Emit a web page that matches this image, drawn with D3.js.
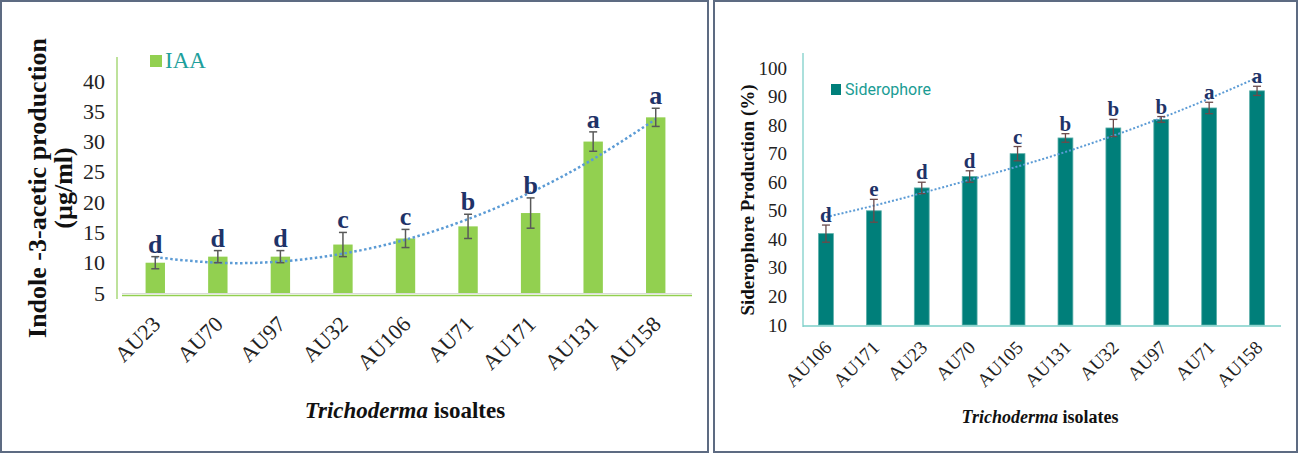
<!DOCTYPE html>
<html>
<head>
<meta charset="utf-8">
<script src="https://cdn.jsdelivr.net/npm/d3@7"></script>
<style>
  body { margin: 0; background: #fff; }
  svg { display: block; }
</style>
</head>
<body>
<svg id="chart"></svg>
<script>
// ---- data: IAA panel ----
const iaaIsolates = ["AU23", "AU70", "AU97", "AU32", "AU106", "AU71", "AU171", "AU131", "AU158"];
const iaaValues   = [10, 11, 11, 13, 14, 16, 18.2, 30, 34];
const iaaErrors   = [1, 1, 1, 2, 1.5, 2, 2.5, 1.6, 1.5];
const iaaLetters  = ["d", "d", "d", "c", "c", "b", "b", "a", "a"];
const iaaTrend    = [10.9, 10.0, 10.2, 11.5, 13.8, 17.2, 21.6, 27.1, 33.7];
const iaaTicks    = [5, 10, 15, 20, 25, 30, 35, 40];

// ---- data: siderophore panel ----
const sidIsolates = ["AU106", "AU171", "AU23", "AU70", "AU105", "AU131", "AU32", "AU97", "AU71", "AU158"];
const sidValues   = [42, 50, 58, 62, 70, 75.5, 79, 82, 86, 92];
const sidErrors   = [3, 4, 2, 2, 2.5, 1.5, 3, 1, 2, 1.6];
const sidLetters  = ["d", "e", "d", "d", "c", "b", "b", "b", "a", "a"];
const sidTrend    = [47.8, 51.8, 56.2, 60.8, 65.5, 70.6, 76.3, 82.5, 89.3, 96.6];
const sidTicks    = [10, 20, 30, 40, 50, 60, 70, 80, 90, 100];

const svg = d3.select("#chart").attr("width", 1299).attr("height", 454);
const serif = "'Liberation Serif', 'Times New Roman', serif";
const letterColor = "#1f3368";

// panel frames
svg.append("rect").attr("x", 1).attr("y", 1).attr("width", 707).attr("height", 451)
  .attr("fill", "none").attr("stroke", "#5d6b82").attr("stroke-width", 2);
svg.append("rect").attr("x", 714).attr("y", 1).attr("width", 583).attr("height", 451)
  .attr("fill", "none").attr("stroke", "#5d6b82").attr("stroke-width", 2);

/* -------------------------
   LEFT: IAA
-------------------------- */

const x1 = d3.scaleBand().domain(iaaIsolates).range([124, 687])
  .paddingInner(0.69).paddingOuter(0.345);
const y1 = d3.scaleLinear().domain([5, 40]).range([293, 81]);

const g1 = svg.append("g");

g1.append("line").attr("x1", 117).attr("x2", 117).attr("y1", 57).attr("y2", 299)
  .attr("stroke", "#a9d97a").attr("stroke-width", 1.5);

g1.append("g")
  .attr("transform", "translate(105,0)")
  .call(d3.axisLeft(y1).tickValues(iaaTicks).tickSize(0).tickPadding(0))
  .call(g => g.select(".domain").remove())
  .call(g => g.attr("font-family", serif).attr("font-size", 22))
  .selectAll("text")
  .attr("font-family", serif).attr("font-size", 22).attr("fill", "#222");

g1.selectAll("rect.bar")
  .data(iaaValues)
  .enter()
  .append("rect")
  .attr("class", "bar")
  .attr("x", (d, i) => x1(iaaIsolates[i]))
  .attr("width", x1.bandwidth())
  .attr("y", d => y1(d))
  .attr("height", d => y1(5) - y1(d))
  .attr("fill", "#92d050");

g1.append("line").attr("x1", 122).attr("x2", 692).attr("y1", 293.5).attr("y2", 293.5)
  .attr("stroke", "#d9d9d9").attr("stroke-width", 1);
g1.append("line").attr("x1", 122).attr("x2", 692).attr("y1", 295.5).attr("y2", 295.5)
  .attr("stroke", "#92d050").attr("stroke-width", 1.5);

// trend line
g1.append("path")
  .datum(iaaTrend)
  .attr("d", d3.line()
    .x((d, i) => x1(iaaIsolates[i]) + x1.bandwidth() / 2)
    .y(d => y1(d))
    .curve(d3.curveNatural))
  .attr("fill", "none")
  .attr("stroke", "#5b9bd5")
  .attr("stroke-width", 2.5)
  .attr("stroke-dasharray", "2.5,2.5");

// error bars
const err1 = g1.selectAll("g.err").data(iaaValues).enter().append("g")
  .attr("transform", (d, i) => `translate(${x1(iaaIsolates[i]) + x1.bandwidth() / 2},0)`)
  .attr("stroke", "#595959").attr("stroke-width", 1.5);
err1.append("line").attr("y1", (d, i) => y1(d + iaaErrors[i])).attr("y2", (d, i) => y1(d - iaaErrors[i]));
err1.append("line").attr("x1", -4).attr("x2", 4)
  .attr("y1", (d, i) => y1(d + iaaErrors[i])).attr("y2", (d, i) => y1(d + iaaErrors[i]));
err1.append("line").attr("x1", -4).attr("x2", 4)
  .attr("y1", (d, i) => y1(d - iaaErrors[i])).attr("y2", (d, i) => y1(d - iaaErrors[i]));

g1.selectAll("text.letter")
  .data(iaaLetters)
  .enter()
  .append("text")
  .attr("class", "letter")
  .attr("x", (d, i) => x1(iaaIsolates[i]) + x1.bandwidth() / 2)
  .attr("y", (d, i) => y1(iaaValues[i] + iaaErrors[i]) - 4)
  .attr("text-anchor", "middle")
  .attr("font-family", serif).attr("font-size", 26).attr("font-weight", "bold")
  .attr("fill", letterColor)
  .text(d => d);

// x tick labels
g1.selectAll("text.xlab")
  .data(iaaIsolates)
  .enter()
  .append("text")
  .attr("class", "xlab")
  .attr("transform", d => `translate(${x1(d) + x1.bandwidth() / 2 + 1},320) rotate(-45)`)
  .attr("text-anchor", "end")
  .attr("dy", "0.35em")
  .attr("font-family", serif).attr("font-size", 22).attr("fill", "#222")
  .text(d => d);

// legend
g1.append("rect").attr("x", 150).attr("y", 55).attr("width", 12).attr("height", 12).attr("fill", "#92d050");
g1.append("text").attr("x", 165).attr("y", 68)
  .attr("font-family", serif).attr("font-size", 23).attr("fill", "#1ea09c")
  .text("IAA");

// axis titles
const yt1 = g1.append("text")
  .attr("transform", "translate(46,188) rotate(-90)")
  .attr("text-anchor", "middle")
  .attr("font-family", serif).attr("font-size", 26).attr("font-weight", "bold").attr("fill", "#111");
yt1.append("tspan").attr("x", 0).attr("dy", 0).text("Indole -3-acetic production");
yt1.append("tspan").attr("x", 0).attr("dy", 26).text("(µg/ml)");

const xt1 = g1.append("text")
  .attr("x", 405).attr("y", 418)
  .attr("text-anchor", "middle")
  .attr("font-family", serif).attr("font-size", 23).attr("font-weight", "bold").attr("fill", "#111");
xt1.append("tspan").attr("font-style", "italic").text("Trichoderma");
xt1.append("tspan").text(" isoaltes");

/* -------------------------
   RIGHT: SIDEROPHORE
-------------------------- */

const x2 = d3.scaleBand().domain(sidIsolates).range([802, 1281])
  .paddingInner(0.69).paddingOuter(0.345);
const y2 = d3.scaleLinear().domain([10, 100]).range([325, 68]);

const g2 = svg.append("g");

g2.append("line").attr("x1", 803).attr("x2", 803).attr("y1", 53).attr("y2", 327)
  .attr("stroke", "#8fd6d1").attr("stroke-width", 1.5);

g2.append("g")
  .attr("transform", "translate(787,0)")
  .call(d3.axisLeft(y2).tickValues(sidTicks).tickSize(0).tickPadding(0))
  .call(g => g.select(".domain").remove())
  .call(g => g.attr("font-family", serif).attr("font-size", 19))
  .selectAll("text")
  .attr("font-family", serif).attr("font-size", 19).attr("fill", "#222");

g2.selectAll("rect.bar")
  .data(sidValues)
  .enter()
  .append("rect")
  .attr("class", "bar")
  .attr("x", (d, i) => x2(sidIsolates[i]))
  .attr("width", x2.bandwidth())
  .attr("y", d => y2(d))
  .attr("height", d => y2(10) - y2(d))
  .attr("fill", "#007f7a")
  .attr("stroke", "#5aaea9").attr("stroke-width", 0.8);

g2.append("line").attr("x1", 803).attr("x2", 1281).attr("y1", 326).attr("y2", 326)
  .attr("stroke", "#7ccfc9").attr("stroke-width", 1.5);

g2.append("path")
  .datum(sidTrend)
  .attr("d", d3.line()
    .x((d, i) => x2(sidIsolates[i]) + x2.bandwidth() / 2)
    .y(d => y2(d))
    .curve(d3.curveNatural))
  .attr("fill", "none")
  .attr("stroke", "#5b9bd5")
  .attr("stroke-width", 2)
  .attr("stroke-dasharray", "2,2");

const err2 = g2.selectAll("g.err").data(sidValues).enter().append("g")
  .attr("transform", (d, i) => `translate(${x2(sidIsolates[i]) + x2.bandwidth() / 2},0)`)
  .attr("stroke", "#6b4a4a").attr("stroke-width", 1.3);
err2.append("line").attr("y1", (d, i) => y2(d + sidErrors[i])).attr("y2", (d, i) => y2(d - sidErrors[i]));
err2.append("line").attr("x1", -4).attr("x2", 4)
  .attr("y1", (d, i) => y2(d + sidErrors[i])).attr("y2", (d, i) => y2(d + sidErrors[i]));
err2.append("line").attr("x1", -4).attr("x2", 4)
  .attr("y1", (d, i) => y2(d - sidErrors[i])).attr("y2", (d, i) => y2(d - sidErrors[i]));

g2.selectAll("text.letter")
  .data(sidLetters)
  .enter()
  .append("text")
  .attr("class", "letter")
  .attr("x", (d, i) => x2(sidIsolates[i]) + x2.bandwidth() / 2)
  .attr("y", (d, i) => y2(sidValues[i] + sidErrors[i]) - 3)
  .attr("text-anchor", "middle")
  .attr("font-family", serif).attr("font-size", 21).attr("font-weight", "bold")
  .attr("fill", letterColor)
  .text(d => d);

g2.selectAll("text.xlab")
  .data(sidIsolates)
  .enter()
  .append("text")
  .attr("class", "xlab")
  .attr("transform", d => `translate(${x2(d) + x2.bandwidth() / 2 + 2},344) rotate(-45)`)
  .attr("text-anchor", "end")
  .attr("dy", "0.35em")
  .attr("font-family", serif).attr("font-size", 19).attr("fill", "#222")
  .text(d => d);

g2.append("rect").attr("x", 831).attr("y", 84).attr("width", 10).attr("height", 11).attr("fill", "#007f7a");
g2.append("text").attr("x", 845).attr("y", 95)
  .attr("font-family", "Roboto, 'Open Sans', sans-serif").attr("font-size", 16).attr("fill", "#1a9c94")
  .text("Siderophore");

g2.append("text")
  .attr("transform", "translate(754,200) rotate(-90)")
  .attr("text-anchor", "middle")
  .attr("font-family", serif).attr("font-size", 19).attr("font-weight", "bold").attr("fill", "#111")
  .text("Siderophore Production (%)");

const xt2 = g2.append("text")
  .attr("x", 1040).attr("y", 423)
  .attr("text-anchor", "middle")
  .attr("font-family", serif).attr("font-size", 18).attr("font-weight", "bold").attr("fill", "#111");
xt2.append("tspan").attr("font-style", "italic").text("Trichoderma");
xt2.append("tspan").text(" isolates");
</script>
</body>
</html>
